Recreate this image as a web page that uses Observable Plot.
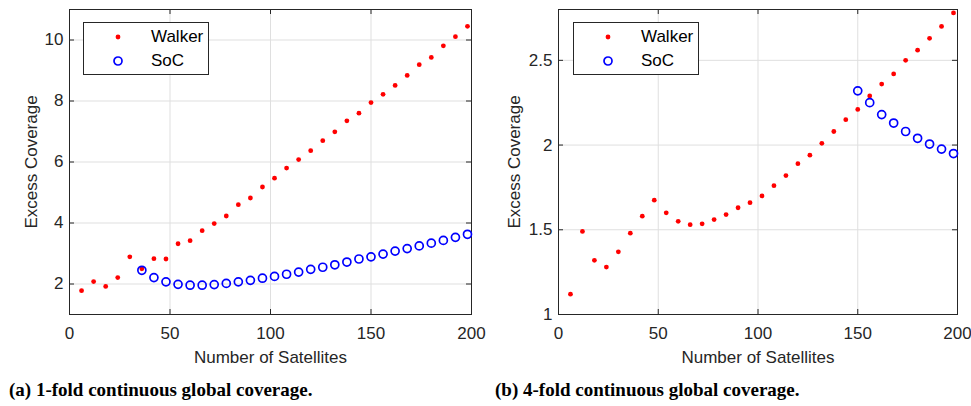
<!DOCTYPE html>
<html>
<head>
<meta charset="utf-8">
<script src="https://cdn.jsdelivr.net/npm/d3@7"></script>
<script src="https://cdn.jsdelivr.net/npm/@observablehq/plot@0.6"></script>
<style>
  html, body { margin: 0; padding: 0; background: #fff; }
  #fig { position: relative; width: 971px; height: 406px; overflow: hidden; font-family: "Liberation Sans", Arial, sans-serif; }
  .panel { position: absolute; top: 0; }
  .legend { position: absolute; border: 1px solid #262626; background: #fff; box-sizing: border-box; }
  .legend .row { position: absolute; left: 0; height: 20px; width: 100%; }
  .legend .row svg { position: absolute; left: 24px; top: 0; }
  .legend .row span { position: absolute; left: 67px; top: 0; line-height: 20px; font-size: 17px; color: #000; }
  .caption { position: absolute; font-family: "Liberation Serif", "Times New Roman", serif; font-weight: bold; font-size: 19px; color: #000; white-space: nowrap; }
</style>
</head>
<body>
<div id="fig"></div>
<script>
// ---- data ----
const satellites = [6,12,18,24,30,36,42,48,54,60,66,72,78,84,90,96,102,108,114,120,126,132,138,144,150,156,162,168,174,180,186,192,198];

// (a) 1-fold coverage
const walker1 = [1.78,2.08,1.92,2.21,2.89,2.50,2.83,2.82,3.32,3.42,3.75,3.98,4.23,4.60,4.82,5.18,5.47,5.80,6.08,6.37,6.70,6.99,7.35,7.60,7.95,8.22,8.51,8.84,9.19,9.43,9.81,10.11,10.45];
const socSat1 = [36,42,48,54,60,66,72,78,84,90,96,102,108,114,120,126,132,138,144,150,156,162,168,174,180,186,192,198];
const soc1 = [2.45,2.21,2.07,1.99,1.96,1.96,1.98,2.02,2.07,2.12,2.19,2.25,2.32,2.39,2.48,2.55,2.63,2.72,2.82,2.89,2.98,3.08,3.16,3.25,3.34,3.43,3.53,3.63];

// (b) 4-fold coverage
const walker4 = [1.12,1.49,1.32,1.28,1.37,1.48,1.58,1.675,1.60,1.55,1.53,1.535,1.56,1.59,1.63,1.66,1.70,1.76,1.82,1.89,1.94,2.01,2.08,2.15,2.21,2.29,2.36,2.42,2.50,2.56,2.63,2.70,2.78];
const socSat4 = [150,156,162,168,174,180,186,192,198];
const soc4 = [2.32,2.25,2.18,2.13,2.08,2.04,2.006,1.976,1.95];

// ---- axes ----
const xDomain = [0, 200];
const xTicks = [0, 50, 100, 150, 200];
const xGrid = [50, 100, 150];
const yDomain1 = [1, 11];
const yTicks1 = [2, 4, 6, 8, 10];
const yDomain4 = [1, 2.8];
const yTicks4 = [1, 1.5, 2, 2.5];
const yGrid4 = [1.5, 2, 2.5];

const xLabel = "Number of Satellites";
const yLabel = "Excess Coverage";
const seriesNames = ["Walker", "SoC"];
const captions = ["(a) 1-fold continuous global coverage.", "(b) 4-fold continuous global coverage."];

const FRAME = "#262626", GRID = "#dfdfdf";
const H = 370, MT = 9, MB = 56;
const inner = H - MT - MB;

function panel({width, marginLeft, marginRight, yDomain, yTicks, yGrid, walker, socX, soc, yLabelOffset}) {
  const wData = satellites.map((s, i) => ({x: s, y: walker[i]}));
  const sData = socX.map((s, i) => ({x: s, y: soc[i]}));
  const innerW = width - marginLeft - marginRight;
  return Plot.plot({
    width, height: H,
    marginLeft, marginRight, marginTop: MT, marginBottom: MB,
    style: {fontSize: "17px", fontFamily: "Liberation Sans, Arial, sans-serif", color: "#262626", background: "transparent", overflow: "visible"},
    x: {domain: xDomain, ticks: xTicks, tickSize: 0, tickPadding: 12, label: xLabel, labelAnchor: "center", labelOffset: 48, labelArrow: "none", tickFormat: d => String(d)},
    y: {domain: yDomain, ticks: yTicks, tickSize: 0, tickPadding: 6, label: yLabel, labelAnchor: "center", labelOffset: yLabelOffset, labelArrow: "none", tickFormat: d => String(d)},
    marks: [
      Plot.ruleX(xGrid, {x: d => d, stroke: GRID, strokeWidth: 1}),
      Plot.ruleY(yGrid, {y: d => d, stroke: GRID, strokeWidth: 1}),
      Plot.ruleX(xTicks, {x: d => d, stroke: FRAME, insetTop: inner - 5}),
      Plot.ruleX(xTicks, {x: d => d, stroke: FRAME, insetBottom: inner - 5}),
      Plot.ruleY(yTicks, {y: d => d, stroke: FRAME, insetRight: innerW - 5}),
      Plot.ruleY(yTicks, {y: d => d, stroke: FRAME, insetLeft: innerW - 5}),
      Plot.frame({stroke: FRAME, strokeWidth: 1}),
      Plot.dot(wData, {x: "x", y: "y", r: 2.4, fill: "#ff0000", stroke: "none"}),
      Plot.dot(sData, {x: "x", y: "y", r: 4, fill: "none", stroke: "#0000ff", strokeWidth: 1.7})
    ]
  });
}

const fig = document.getElementById("fig");

function addPanel(left, opts, legendLeft, caption, captionLeft) {
  const wrap = document.createElement("div");
  wrap.className = "panel";
  wrap.style.left = left + "px";
  wrap.appendChild(panel(opts));
  fig.appendChild(wrap);

  const lg = document.createElement("div");
  lg.className = "legend";
  lg.style.left = legendLeft + "px";
  lg.style.top = "22px";
  lg.style.width = "126px";
  lg.style.height = "53px";
  lg.innerHTML =
    `<div class="row" style="top:4px"><svg width="20" height="20"><circle cx="10" cy="10" r="2.4" fill="#ff0000"/></svg><span>${seriesNames[0]}</span></div>` +
    `<div class="row" style="top:28px"><svg width="20" height="20"><circle cx="10" cy="10" r="4" fill="none" stroke="#0000ff" stroke-width="1.7"/></svg><span>${seriesNames[1]}</span></div>`;
  fig.appendChild(lg);

  const cap = document.createElement("div");
  cap.className = "caption";
  cap.style.left = captionLeft + "px";
  cap.style.top = "379px";
  cap.textContent = caption;
  fig.appendChild(cap);
}

addPanel(0, {width: 485, marginLeft: 69, marginRight: 14, yDomain: yDomain1, yTicks: yTicks1, yGrid: yTicks1, walker: walker1, socX: socSat1, soc: soc1, yLabelOffset: 45}, 83, captions[0], 9);
addPanel(485, {width: 486, marginLeft: 73, marginRight: 14, yDomain: yDomain4, yTicks: yTicks4, yGrid: yGrid4, walker: walker4, socX: socSat4, soc: soc4, yLabelOffset: 51}, 573, captions[1], 495);
</script>
</body>
</html>
